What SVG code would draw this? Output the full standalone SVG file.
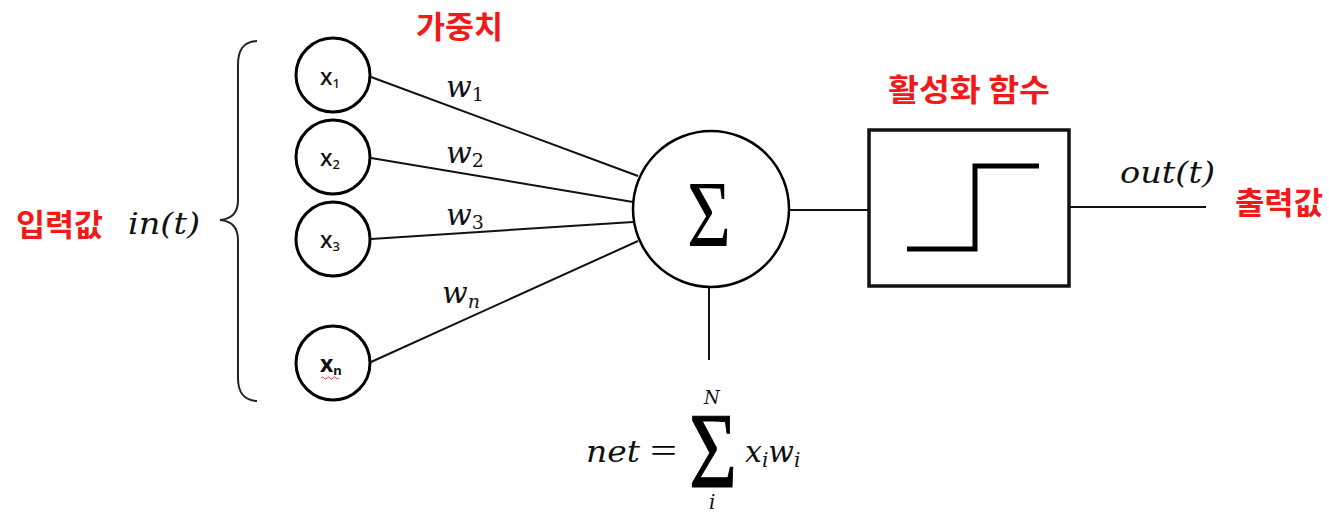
<svg xmlns="http://www.w3.org/2000/svg" width="1329" height="512" viewBox="0 0 1329 512">
<style>
.node{fill:#fff;stroke:#000;stroke-width:3}
.conn{stroke:#111;stroke-width:2;fill:none}
.kr{font-family:"Noto Sans CJK KR","Noto Sans",sans-serif;font-weight:700;fill:#f01a1a;font-size:31px}
.m{font-family:"DejaVu Serif","Liberation Serif",serif;font-style:italic;fill:#111}
.xs{font-family:"Noto Sans","Liberation Sans",sans-serif;fill:#111;font-size:23px;font-weight:500}
.xb{font-weight:700}
.sub{font-size:13px}
.sig{font-family:"Liberation Serif","DejaVu Serif",serif;fill:#000}
</style>
<rect width="1329" height="512" fill="#fff"/>
<g id="labels">
<text class="kr" x="416" y="38" textLength="87" lengthAdjust="spacingAndGlyphs">가중치</text>
<text class="kr" x="16" y="236" textLength="87" lengthAdjust="spacingAndGlyphs">입력값</text>
<text class="kr" x="888" y="101" textLength="162" lengthAdjust="spacingAndGlyphs">활성화 함수</text>
<text class="kr" x="1235" y="214" textLength="88" lengthAdjust="spacingAndGlyphs">출력값</text>
<text class="m" x="128" y="234" font-size="29" textLength="72" lengthAdjust="spacingAndGlyphs">in(t)</text>
<text class="m" x="1120" y="183" font-size="29" textLength="95" lengthAdjust="spacingAndGlyphs">out(t)</text>
</g>
<g id="brace">
<path d="M257,41 C243,42 238,50 238,65 L238,200 C238,212 232,219 220,220 C232,221 238,228 238,240 L238,378 C238,392 243,400 257,401" fill="none" stroke="#222" stroke-width="2"/>
</g>
<g id="connectors">
<line class="conn" x1="371" y1="77" x2="638" y2="176"/>
<line class="conn" x1="371" y1="158" x2="633" y2="202"/>
<line class="conn" x1="371" y1="239" x2="633" y2="222"/>
<line class="conn" x1="371" y1="362" x2="638" y2="241"/>
<line class="conn" x1="709" y1="287" x2="709" y2="360"/>
<line class="conn" x1="790" y1="210" x2="868" y2="210"/>
<line class="conn" x1="1070" y1="207" x2="1206" y2="207"/>
</g>
<g id="weights" class="m" font-size="30">
<text x="446" y="97">w<tspan font-size="19" dy="4" font-style="normal">1</tspan></text>
<text x="446" y="163">w<tspan font-size="19" dy="4" font-style="normal">2</tspan></text>
<text x="446" y="225">w<tspan font-size="19" dy="4" font-style="normal">3</tspan></text>
<text x="442" y="303">w<tspan font-size="19" dy="5">n</tspan></text>
</g>
<g id="x1">
<circle class="node" cx="333" cy="75" r="37"/>
<text class="xs" x="320" y="85">x<tspan class="sub" dy="3">1</tspan></text>
</g>
<g id="x2">
<circle class="node" cx="333" cy="157" r="37"/>
<text class="xs" x="320" y="166">x<tspan class="sub" dy="3">2</tspan></text>
</g>
<g id="x3">
<circle class="node" cx="333" cy="239" r="37"/>
<text class="xs" x="320" y="248">x<tspan class="sub" dy="3">3</tspan></text>
</g>
<g id="xn">
<circle class="node" cx="333" cy="363" r="37"/>
<text class="xs xb" x="320" y="372">x<tspan class="sub" dy="3">n</tspan></text>
<path d="M321,378 q1.5,-2 3,0 t3,0 t3,0 t3,0 t3,0 t3,0" fill="none" stroke="#f33" stroke-width="1"/>
</g>
<g id="sum">
<circle cx="711" cy="209" r="78" fill="#fff" stroke="#000" stroke-width="2.5"/>
<text class="sig" x="687" y="247" font-size="96" textLength="44" lengthAdjust="spacingAndGlyphs">Σ</text>
</g>
<g id="activation">
<rect x="869" y="130" width="200" height="156" fill="#fff" stroke="#111" stroke-width="3.5"/>
<polyline points="907,249 975,249 975,166 1039,166" fill="none" stroke="#000" stroke-width="5"/>
</g>
<g id="formula">
<text class="m" x="586" y="462" font-size="30" textLength="54" lengthAdjust="spacingAndGlyphs">net</text>
<text class="sig" x="650" y="462" font-size="34" textLength="27" lengthAdjust="spacingAndGlyphs">=</text>
<text class="sig" x="689" y="487" font-size="108" textLength="48" lengthAdjust="spacingAndGlyphs" stroke="#000" stroke-width="1">Σ</text>
<text class="m" x="704" y="404" font-size="18">N</text>
<text class="m" x="709" y="509" font-size="20">i</text>
<text class="m" x="745" y="462" font-size="30">x<tspan font-size="20" dy="5">i</tspan><tspan dy="-5">w</tspan><tspan font-size="20" dy="5">i</tspan></text>
</g>
</svg>
